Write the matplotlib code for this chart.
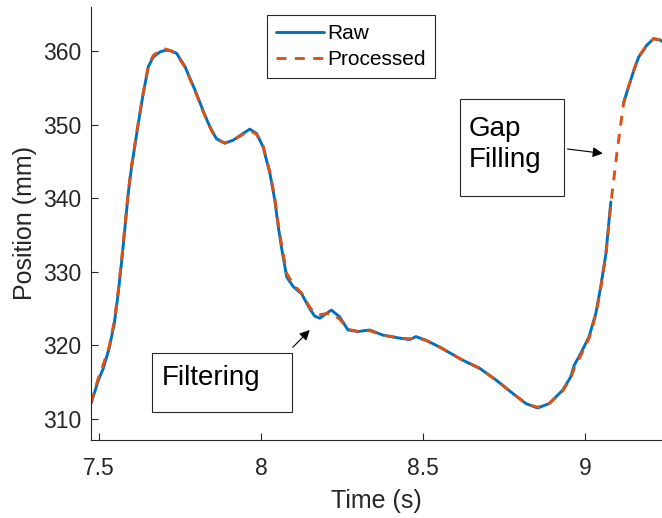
import matplotlib
matplotlib.use("Agg")
import matplotlib.pyplot as plt
import numpy as np
from matplotlib.patches import Rectangle

plt.rcParams['font.family'] = ['Liberation Sans', 'DejaVu Sans']

# time samples (s)
t = [7.475, 7.498, 7.513, 7.531, 7.547, 7.559, 7.570, 7.580, 7.590, 7.600,
     7.621, 7.636, 7.652, 7.667, 7.688, 7.703, 7.719, 7.739, 7.765, 7.796,
     7.821, 7.837, 7.847, 7.862, 7.888, 7.914, 7.944, 7.965, 7.986, 8.006,
     8.027, 8.042, 8.053, 8.064, 8.079, 8.099, 8.125, 8.150, 8.165, 8.181,
     8.200, 8.217, 8.242, 8.268, 8.299, 8.335, 8.376, 8.427, 8.458, 8.478,
     8.509, 8.550, 8.622, 8.674, 8.725, 8.776, 8.817, 8.853, 8.889, 8.930,
     8.955, 8.966, 8.986, 9.012, 9.033, 9.048, 9.064, 9.079, 9.098, 9.118,
     9.134, 9.154, 9.165, 9.190, 9.211, 9.232, 9.237]

# raw position (mm), nan = gap in the marker data
y_raw = [312.1, 315.3, 316.9, 319.6, 323.0, 327.1, 331.6, 336.1, 340.7, 344.2,
         350.2, 354.2, 357.9, 359.2, 359.9, 360.1, 360.1, 359.7, 357.9, 354.7,
         351.9, 350.2, 349.3, 348.1, 347.5, 347.9, 348.8, 349.4, 348.8, 347.0,
         343.4, 339.8, 336.1, 333.0, 329.3, 328.0, 327.0, 325.0, 324.0, 323.7,
         324.3, 324.8, 323.9, 322.1, 321.9, 322.1, 321.4, 321.0, 320.8, 321.2,
         320.7, 319.8, 318.0, 316.9, 315.3, 313.5, 312.1, 311.5, 312.1, 313.9,
         315.7, 317.3, 318.9, 321.2, 324.4, 328.0, 332.5, 339.5, np.nan, 352.9,
         355.2, 357.9, 359.2, 360.8, 361.7, 361.5, 361.3]

# processed position (mm): filtered and gap filled
y_proc = [312.2, 315.6, 317.4, 319.8, 323.3, 327.4, 331.9, 336.4, 340.9, 344.4,
          350.3, 354.3, 358.0, 359.4, 360.1, 360.3, 360.1, 359.6, 357.8, 354.6,
          351.8, 350.1, 349.2, 348.0, 347.5, 347.9, 348.7, 349.2, 348.7, 347.1,
          343.6, 340.1, 336.5, 333.4, 329.8, 328.3, 327.1, 325.2, 324.4, 324.2,
          324.3, 324.4, 323.6, 322.2, 321.9, 322.0, 321.4, 321.0, 320.9, 321.0,
          320.7, 319.8, 318.0, 316.9, 315.3, 313.5, 312.1, 311.6, 312.1, 313.8,
          315.5, 316.9, 318.6, 321.0, 324.2, 327.8, 332.3, 339.2, 346.2, 352.8,
          355.2, 357.9, 359.2, 360.8, 361.7, 361.5, 361.3]

fig = plt.figure(figsize=(6.62, 5.18), dpi=100)
ax = fig.add_axes([91 / 662, 78 / 518, 571 / 662, 433 / 518])

ax.plot(t, y_raw, color='#0072BD', lw=2.1, label='Raw',
        solid_joinstyle='round', solid_capstyle='round')
ax.plot(t, y_proc, color='#D95319', lw=2.1, ls=(0, (3.4, 2.9)), label='Processed')

ax.set_xlim(7.475, 9.237)
ax.set_ylim(307.15, 366.0)
ax.set_xticks([7.5, 8, 8.5, 9])
ax.set_xticklabels(['7.5', '8', '8.5', '9'])
ax.set_yticks([310, 320, 330, 340, 350, 360])

for s in ['top', 'right']:
    ax.spines[s].set_visible(False)
for s in ['left', 'bottom']:
    ax.spines[s].set_color('#262626')
    ax.spines[s].set_linewidth(0.8)
ax.tick_params(direction='in', length=5, width=0.8, colors='#262626',
               labelsize=16.5)
ax.tick_params(axis='x', pad=12)
ax.tick_params(axis='y', pad=7)
ax.set_xlabel('Time (s)', fontsize=18, color='#262626', labelpad=7)
ax.set_ylabel('Position (mm)', fontsize=18, color='#262626', labelpad=4)

leg = ax.legend(loc='upper left', bbox_to_anchor=(0.308, 0.981), fontsize=15,
                handlelength=2.3, handletextpad=0.2, labelspacing=0.35,
                borderpad=0.42, borderaxespad=0, fancybox=False, framealpha=1)
leg.get_frame().set_edgecolor('#262626')
leg.get_frame().set_linewidth(0.8)

# text boxes
ax.add_patch(Rectangle((0.107, 0.064), 0.2445, 0.136, transform=ax.transAxes,
                       fill=False, ec='#262626', lw=0.8, clip_on=False))
ax.text(0.124, 0.143, 'Filtering', transform=ax.transAxes, fontsize=20,
        va='center', ha='left')
ax.add_patch(Rectangle((0.646, 0.5635), 0.182, 0.224, transform=ax.transAxes,
                       fill=False, ec='#262626', lw=0.8, clip_on=False))
ax.text(0.662, 0.683, 'Gap\nFilling', transform=ax.transAxes, fontsize=20,
        va='center', ha='left', linespacing=1.25)

# arrows
ax.annotate('', xy=(8.150, 322.1), xytext=(8.0976, 319.74),
            arrowprops=dict(arrowstyle='-|>', color='black', lw=0.8,
                            mutation_scale=15, shrinkA=0, shrinkB=0))
ax.annotate('', xy=(9.0545, 346.1), xytext=(8.9455, 346.7),
            arrowprops=dict(arrowstyle='-|>', color='black', lw=0.8,
                            mutation_scale=15, shrinkA=0, shrinkB=0))

fig.savefig('out.png', dpi=100)
